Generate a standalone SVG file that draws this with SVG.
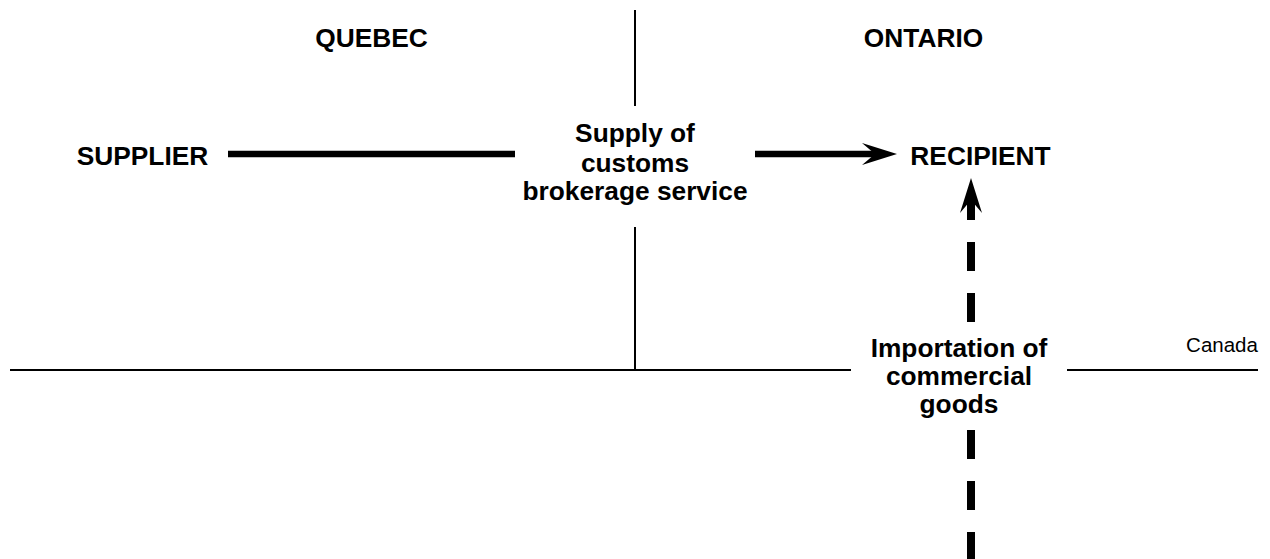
<svg xmlns="http://www.w3.org/2000/svg" width="1270" height="559" viewBox="0 0 1270 559">
  <style>
    .lbl { font-family: "Liberation Sans", Arial, sans-serif; font-weight: bold; font-size: 26.3px; fill: #000; text-anchor: middle; }
    .small { font-family: "Liberation Sans", Arial, sans-serif; font-size: 20.5px; fill: #000; text-anchor: middle; }
    .thin { stroke: #000; stroke-width: 2; fill: none; }
    .thick { stroke: #000; stroke-width: 6.5; fill: none; }
    .dashed { stroke: #000; stroke-width: 8; fill: none; stroke-dasharray: 29 22; }
  </style>
  <defs>
    <marker id="arrow" markerUnits="userSpaceOnUse" viewBox="0 -11 35 22" refX="18" refY="0" markerWidth="35" markerHeight="22" orient="auto">
      <path d="M35,0 L0,-11 L13,0 L0,11 Z" fill="#000"/>
    </marker>
  </defs>

  <rect width="1270" height="559" fill="#fff"/>

  <!-- Province divider and national border -->
  <g id="boundaries">
    <line class="thin" x1="635" y1="10" x2="635" y2="106"/>
    <line class="thin" x1="635" y1="227" x2="635" y2="370"/>
    <line class="thin" x1="10" y1="370" x2="851" y2="370"/>
    <line class="thin" x1="1067" y1="370" x2="1258" y2="370"/>
  </g>

  <g id="region-quebec">
    <text class="lbl" x="371.5" y="46.7">QUEBEC</text>
  </g>
  <g id="region-ontario">
    <text class="lbl" x="923.5" y="46.7">ONTARIO</text>
  </g>
  <g id="region-canada">
    <text class="small" x="1222" y="351.5">Canada</text>
  </g>

  <g id="supplier">
    <text class="lbl" x="142.5" y="165">SUPPLIER</text>
  </g>
  <g id="recipient">
    <text class="lbl" x="980.5" y="165">RECIPIENT</text>
  </g>
  <g id="supply-service">
    <text class="lbl" x="635" y="141.7">Supply of</text>
    <text class="lbl" x="635" y="171.5">customs</text>
    <text class="lbl" x="635" y="200">brokerage service</text>
  </g>
  <g id="importation">
    <text class="lbl" x="959" y="356.7">Importation of</text>
    <text class="lbl" x="959" y="385">commercial</text>
    <text class="lbl" x="959" y="413">goods</text>
  </g>

  <g id="connectors">
    <line class="thick" x1="228" y1="154" x2="515" y2="154"/>
    <line class="thick" x1="755" y1="154" x2="880" y2="154" marker-end="url(#arrow)"/>
    <line class="dashed" x1="971" y1="322" x2="971" y2="195" marker-end="url(#arrow)"/>
    <line class="dashed" x1="971" y1="430" x2="971" y2="575"/>
  </g>
</svg>
